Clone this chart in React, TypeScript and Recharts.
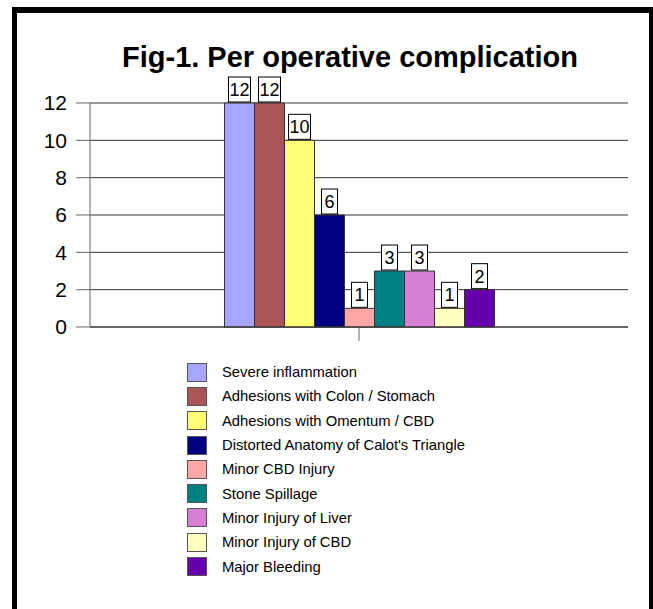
import React from 'react';
import { BarChart, Bar, XAxis, YAxis, CartesianGrid, LabelList, Legend } from 'recharts';

const categories = [''];
const seriesNames = [
  'Severe inflammation',
  'Adhesions with Colon / Stomach',
  'Adhesions with Omentum / CBD',
  "Distorted Anatomy of Calot's Triangle",
  'Minor CBD Injury',
  'Stone Spillage',
  'Minor Injury of Liver',
  'Minor Injury of CBD',
  'Major Bleeding',
];
const seriesValues = [12, 12, 10, 6, 1, 3, 3, 1, 2];
const seriesColors = ['#A6A6FF', '#AA5555', '#FFFF77', '#000080', '#FFA6A6', '#008080', '#D580D5', '#FFFFC0', '#6600AA'];
const yTicks = [0, 2, 4, 6, 8, 10, 12];

const FONT = '"Liberation Sans", Arial, sans-serif';

const data = categories.map(name => {
  const row: Record<string, string | number> = { name };
  seriesValues.forEach((v, i) => {
    row[`s${i}`] = v;
  });
  return row;
});

const BoxLabel = (props: any) => {
  const { x, y, width, value } = props;
  const text = String(value);
  const w = text.length === 1 ? 16 : 22;
  const h = 25;
  const cx = x + width / 2;
  return (
    <g>
      <rect x={cx - w / 2} y={y - h - 1} width={w} height={h} fill="#fff" stroke="#000" strokeWidth={1} />
      <text x={cx} y={y - 7} textAnchor="middle" fontSize={18} fontFamily={FONT} fill="#000">
        {text}
      </text>
    </g>
  );
};

const LegendBox = () => (
  <div style={{ fontFamily: FONT, fontSize: 14.8, color: '#000' }}>
    {seriesNames.map((n, i) => (
      <div key={n} style={{ display: 'flex', alignItems: 'center', height: 24.3 }}>
        <span
          style={{
            display: 'inline-block',
            width: 18,
            height: 17,
            background: seriesColors[i],
            border: '1px solid #555',
            marginRight: 15,
          }}
        />
        <span>{n}</span>
      </div>
    ))}
  </div>
);

export default function App() {
  return (
    <div style={{ position: 'absolute', left: 0, top: 0, width: 653, height: 609, background: '#fff', overflow: 'hidden' }}>
      <div
        style={{
          position: 'absolute',
          left: 12,
          top: 7,
          width: 632,
          height: 700,
          borderLeft: '5px solid #000',
          borderTop: '6px solid #000',
          borderRight: '5px solid #000',
        }}
      />
      <BarChart
        width={653}
        height={609}
        data={data}
        margin={{ top: 103, right: 25, left: 30, bottom: 262 }}
        barCategoryGap="25%"
        barGap={0}
        style={{ position: 'absolute', left: 0, top: 0 }}
      >
        <text x={122} y={67} fontSize={30} fontWeight="bold" fontFamily={FONT} textLength={456} lengthAdjust="spacingAndGlyphs" fill="#000">
          Fig-1. Per operative complication
        </text>
        <CartesianGrid vertical={false} stroke="#333" />
        <XAxis
          dataKey="name"
          tickSize={14}
          tickFormatter={() => ''}
          stroke="#666"
          axisLine={{ stroke: '#333' }}
          tickLine={{ stroke: '#666' }}
          height={20}
        />
        <YAxis
          domain={[0, 12]}
          ticks={yTicks}
          width={60}
          tickSize={14}
          tickMargin={9}
          stroke="#666"
          tick={{ fill: '#000', fontSize: 21, fontFamily: FONT }}
        />
        {seriesNames.map((n, i) => (
          <Bar key={n} dataKey={`s${i}`} name={n} fill={seriesColors[i]} stroke="#333" strokeWidth={1} isAnimationActive={false}>
            <LabelList dataKey={`s${i}`} content={BoxLabel} />
          </Bar>
        ))}
        <Legend
          layout="vertical"
          align="center"
          verticalAlign="middle"
          content={LegendBox}
          wrapperStyle={{ position: 'absolute', left: 187, top: 360, width: 340 }}
        />
      </BarChart>
    </div>
  );
}
